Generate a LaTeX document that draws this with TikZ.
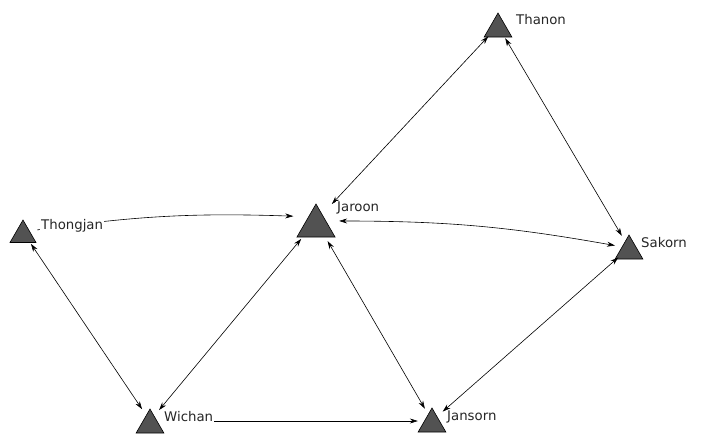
\documentclass[tikz,border=0pt]{standalone}
\usepackage{fontspec}
\setmainfont{DejaVu Sans}
\usetikzlibrary{shapes.geometric,arrows.meta}
\begin{document}
\begin{tikzpicture}[x=1pt,y=-1pt,
  actor/.style={regular polygon, regular polygon sides=3, draw=black, fill=black!68, inner sep=0pt, line width=0.6pt},
  hit/.style={circle, inner sep=0pt, minimum size=#1},
  lbl/.style={anchor=west, fill=white, inner sep=1pt, font=\fontsize{13.3}{15}\selectfont, text=black!85},
  tip/.tip={Stealth[length=8pt,width=5pt]},
  link/.style={draw=black, line width=0.6pt, -tip},
  both/.style={draw=black, line width=0.6pt, tip-tip}]
\useasboundingbox (0,0) rectangle (707,434);
% triangles
\node[actor, minimum size=44pt] (jaroonT) at (316,226) {};
\node[actor, minimum size=30pt] (thongjanT) at (23,235) {};
\node[actor, minimum size=32pt] (thanonT) at (498,29) {};
\node[actor, minimum size=32pt] (sakornT) at (629,251) {};
\node[actor, minimum size=32pt] (wichanT) at (150,425) {};
\node[actor, minimum size=32pt] (jansornT) at (432,424) {};
% arrow targets
\node[hit=46pt] (jaroon) at (316,221) {};
\node[hit=28pt] (thongjan) at (23,232) {};
\node[hit=28pt] (thanon) at (498,26) {};
\node[hit=28pt] (sakorn) at (629,248) {};
\node[hit=28pt] (wichan) at (150,421) {};
\node[hit=28pt] (jansorn) at (432,421) {};
% connectors
\draw[link] (thongjan) to[bend left=5] (jaroon.168);
\draw[both] (thongjan) -- (wichan);
\draw[both] (wichan) -- (jaroon);
\draw[link] (wichan) -- (jansorn);
\draw[both] (jaroon) -- (jansorn);
\draw[both] (jansorn) -- (sakorn);
\draw[both] (jaroon) to[bend left=5] (sakorn);
\draw[both] (jaroon) -- (thanon);
\draw[both] (thanon) -- (sakorn);
% labels
\node[lbl] (lthongjan) at (40,226) {Thongjan};
\node[lbl] (ljaroon) at (336,208) {Jaroon};
\node[lbl] (lthanon) at (515,20) {Thanon};
\node[lbl] (lsakorn) at (640,243) {Sakorn};
\node[lbl] (lwichan) at (163,417) {Wichan};
\node[lbl] (ljansorn) at (446,417) {Jansorn};
\end{tikzpicture}
\end{document}
